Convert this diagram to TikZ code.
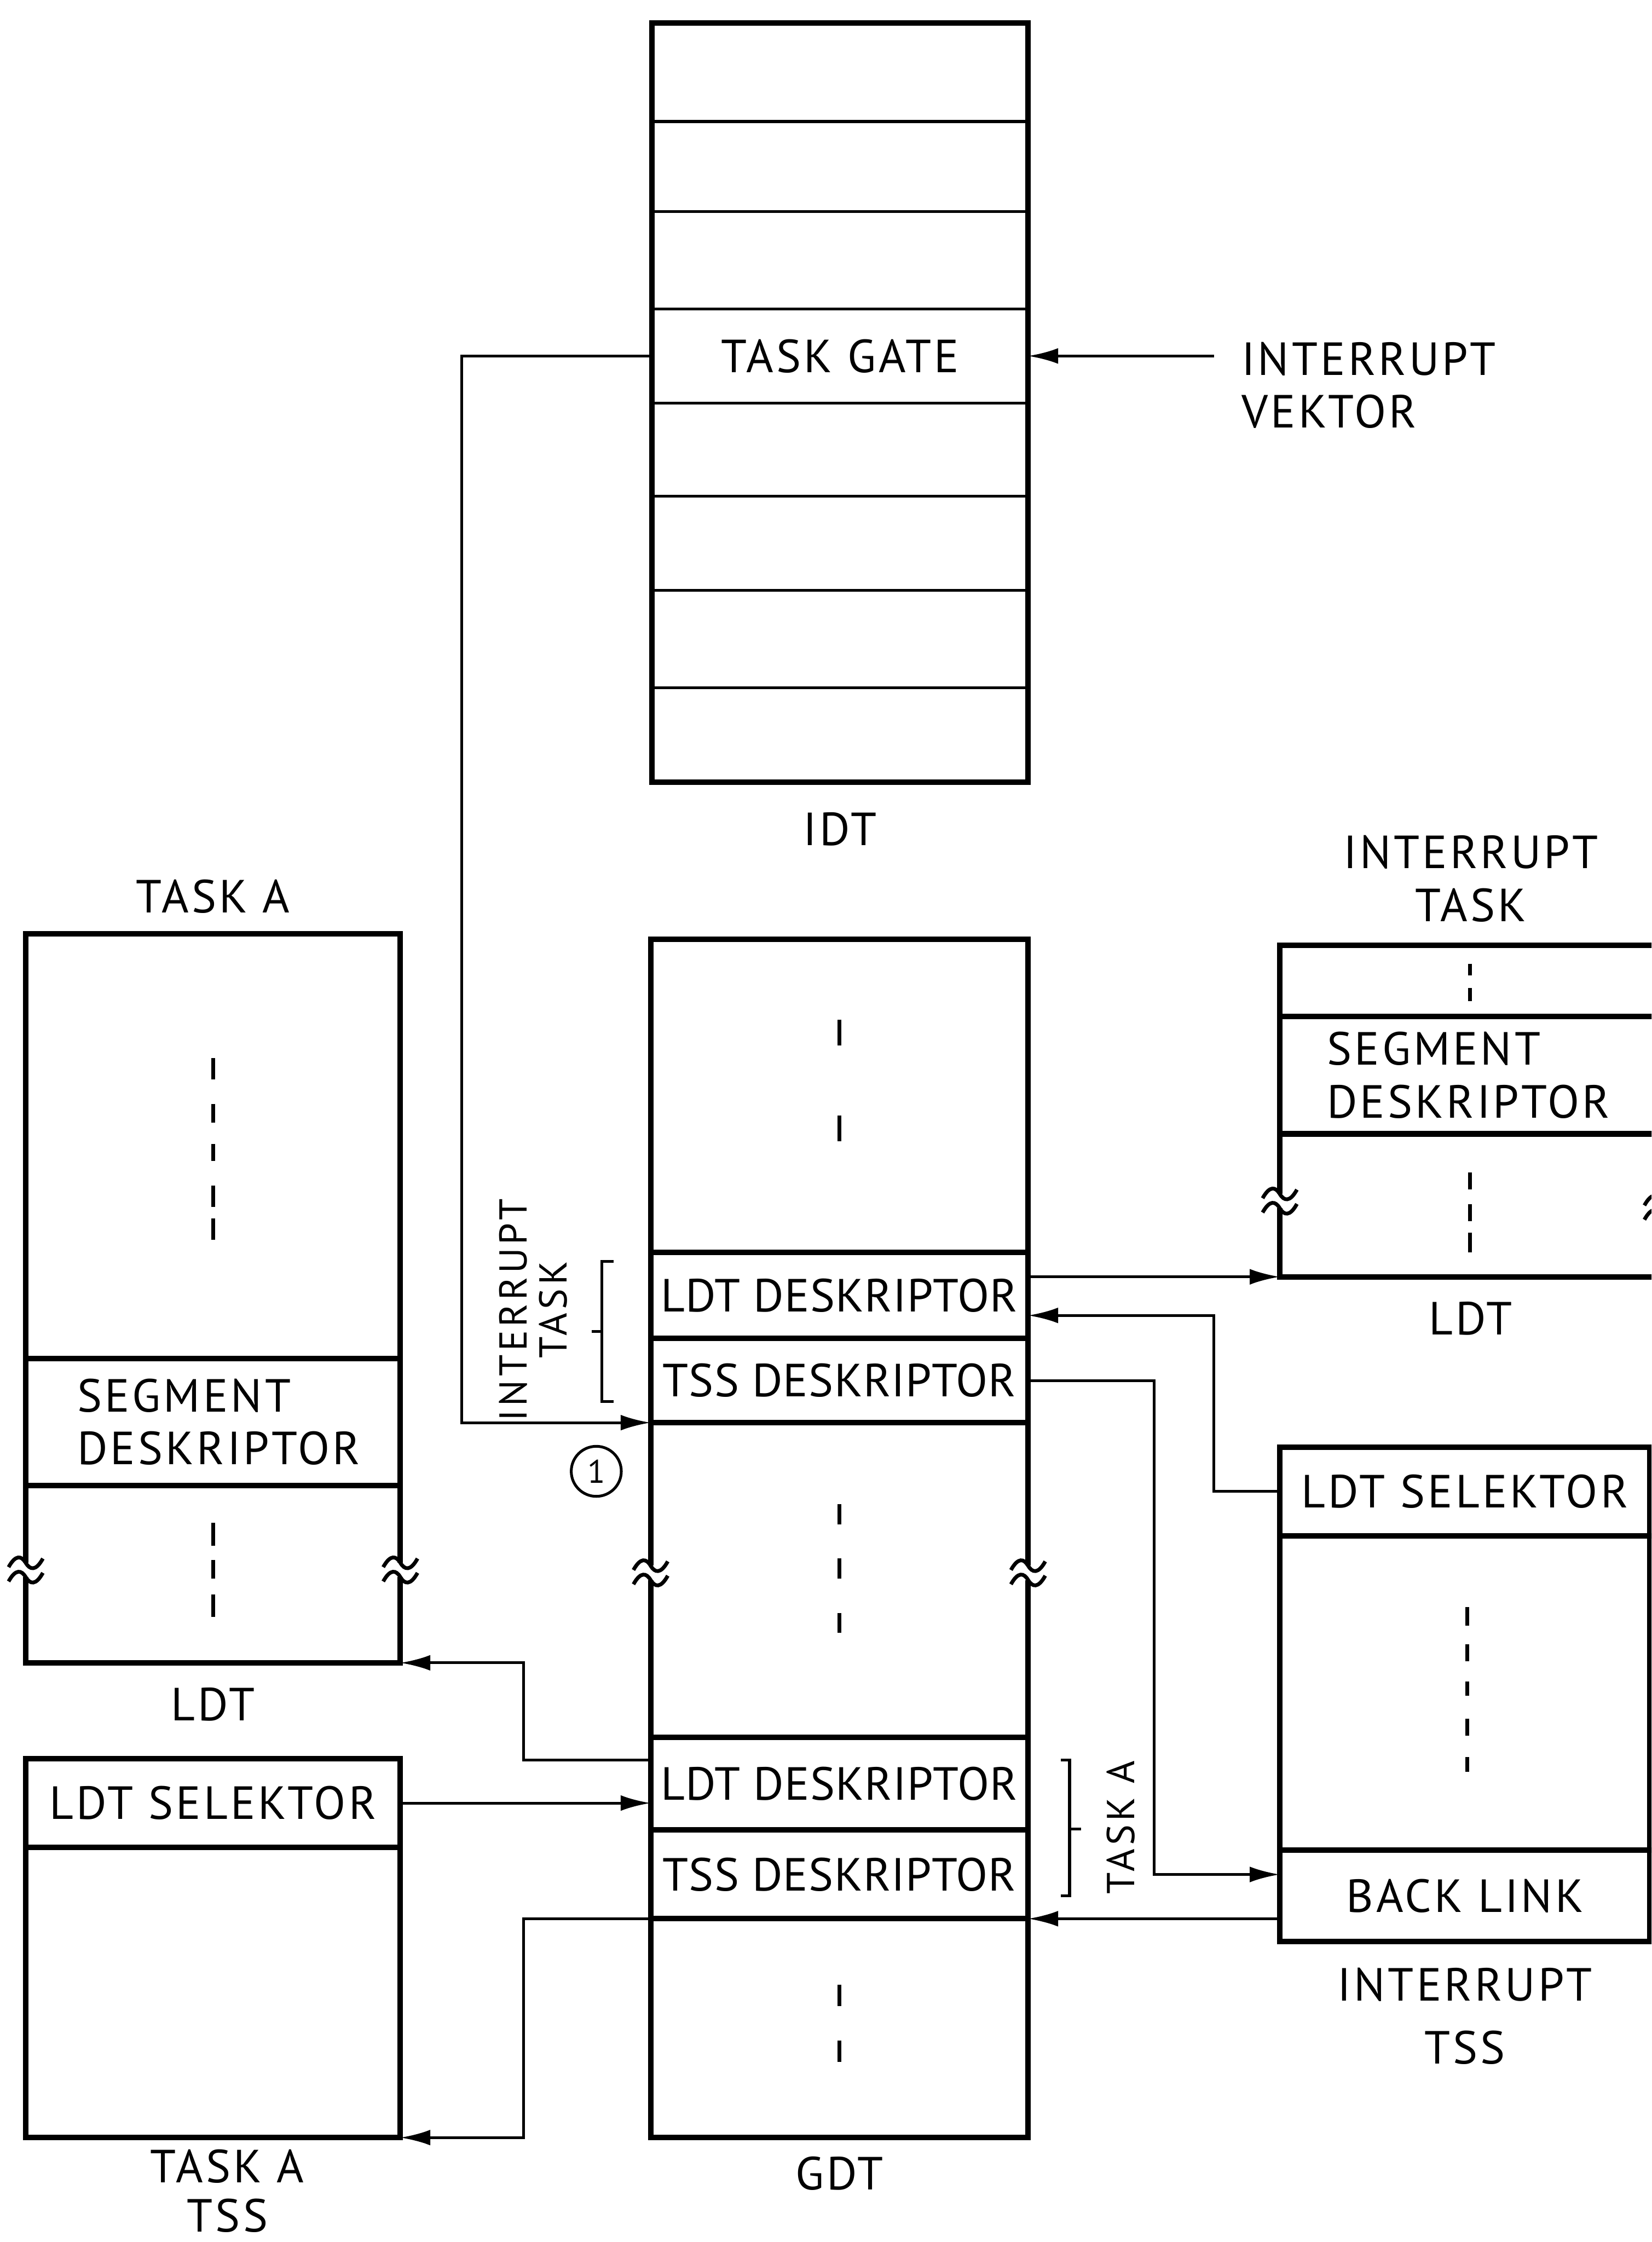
\documentclass[tikz,border=0pt]{standalone}
\usepackage{fontspec}
\setmainfont{PT Sans}[LetterSpace=6]
\usetikzlibrary{arrows.meta, positioning}

\begin{document}
\begin{tikzpicture}[
    x=0.02cm, y=-0.02cm,
    every node/.style={font=\fontsize{18.5}{21}\selectfont},
    idtrow/.style={rectangle, draw, line width=1.1pt, minimum width=5.26cm, inner sep=0pt, outer sep=0pt},
    cell/.style={rectangle, draw, line width=2.2pt, minimum width=#1, inner sep=0pt, outer sep=0pt},
    gtext/.style={font=\fontsize{18.5}{21}\selectfont\addfontfeatures{LetterSpace=1.5}},
    frame/.style={line width=2.2pt},
    lbl/.style={inner sep=0pt, align=center},
    side/.style={inner sep=0pt, align=center, rotate=90, font=\fontsize{15.5}{16}\selectfont\addfontfeatures{LetterSpace=9}},
    arrow/.style={->, >={Latex[length=0.42cm, width=0.22cm]}, line width=1.1pt},
    dots/.style={line width=1.6pt},
    brace/.style={line width=1.1pt},
    brk/.pic={
        \fill[white] (-3,-5) rectangle (3,5);
        \draw[line width=1.5pt] (-12,-2) .. controls (-7,-11) and (-3,-10) .. (0,-5) .. controls (3,0) and (7,1) .. (12,-8);
        \draw[line width=1.5pt] (-12,8) .. controls (-7,-1) and (-3,0) .. (0,5) .. controls (3,10) and (7,11) .. (12,2);
    }
]
\useasboundingbox (0,0) rectangle (1155,1568);
\clip (0,0) rectangle (1155,1568);

% IDT
\node[idtrow, minimum height=1.38cm] (idt1) at (587.5,50.5) {};
\node[idtrow, minimum height=1.26cm, below=0pt of idt1] (idt2) {};
\node[idtrow, minimum height=1.36cm, below=0pt of idt2] (idt3) {};
\node[idtrow, minimum height=1.32cm, below=0pt of idt3] (idt4) {TASK GATE};
\node[idtrow, minimum height=1.30cm, below=0pt of idt4] (idt5) {};
\node[idtrow, minimum height=1.32cm, below=0pt of idt5] (idt6) {};
\node[idtrow, minimum height=1.36cm, below=0pt of idt6] (idt7) {};
\node[idtrow, minimum height=1.32cm, below=0pt of idt7] (idt8) {};
\draw[frame] (idt1.north west) rectangle (idt8.south east);
\node[lbl, below=0.42cm of idt8] (idtlbl) {IDT};
\node[lbl, align=left, anchor=north west, inner xsep=0.38cm] (vektor) at ([xshift=2.6cm, yshift=0.2cm]idt4.east) {INTERRUPT\\VEKTOR};

% GDT
\node[cell=5.28cm, minimum height=4.38cm] (g1) at (587,766.5) {};
\node[cell=5.28cm, gtext, minimum height=1.2cm, below=0pt of g1] (g2) {LDT DESKRIPTOR};
\node[cell=5.28cm, gtext, minimum height=1.18cm, below=0pt of g2] (g3) {TSS DESKRIPTOR};
\node[cell=5.28cm, minimum height=4.4cm, below=0pt of g3] (g4) {};
\node[cell=5.28cm, gtext, minimum height=1.3cm, below=0pt of g4] (g5) {LDT DESKRIPTOR};
\node[cell=5.28cm, gtext, minimum height=1.24cm, below=0pt of g5] (g6) {TSS DESKRIPTOR};
\node[cell=5.28cm, minimum height=3.06cm, below=0pt of g6] (g7) {};
\node[lbl, below=0.26cm of g7] (gdtlbl) {GDT};

% Task A LDT and TSS
\node[cell=5.24cm, minimum height=5.94cm] (l1) at (149,801.5) {};
\node[cell=5.24cm, minimum height=1.78cm, below=0pt of l1, text width=3.8cm, align=left] (l2) {SEGMENT\\DESKRIPTOR};
\node[cell=5.24cm, minimum height=2.48cm, below=0pt of l2] (l3) {};
\node[lbl, above=0.28cm of l1] (ldtalbl) {TASK A};
\node[lbl, below=0.34cm of l3] (ldtlbl) {LDT};

\node[cell=5.24cm, minimum height=1.24cm] (t1) at (149,1261) {LDT SELEKTOR};
\node[cell=5.24cm, minimum height=4.06cm, below=0pt of t1] (t2) {};
\node[lbl, font=\fontsize{18.5}{19.5}\selectfont, below=0.16cm of t2, xshift=0.2cm] (tsslbl) {TASK A\\TSS};

% Interrupt task LDT and TSS
\node[cell=5.34cm, minimum height=1.0cm] (il1) at (1028.5,686) {};
\node[cell=5.34cm, minimum height=1.64cm, below=0pt of il1, text width=4.02cm, align=left] (il2) {SEGMENT\\DESKRIPTOR};
\node[cell=5.34cm, minimum height=2.0cm, below=0pt of il2] (il3) {};
\node[lbl, above=0.32cm of il1] (intlbl) {INTERRUPT\\TASK};
\node[lbl, below=0.34cm of il3] (ildtlbl) {LDT};

\node[cell=5.18cm, minimum height=1.24cm] (it1) at (1024.5,1043) {LDT SELEKTOR};
\node[cell=5.18cm, minimum height=4.4cm, below=0pt of it1] (it2) {};
\node[cell=5.18cm, minimum height=1.28cm, below=0pt of it2] (it3) {BACK LINK};
\node[lbl, font=\fontsize{18.5}{25}\selectfont, below=0.36cm of it3] (itsslbl) {INTERRUPT\\TSS};

% side marks
\node[side] (inttask) at (373,916) {INTERRUPT\\TASK};
\node[side] (taskarot) at (784,1278) {TASK A};
\node[circle, draw, line width=1.1pt, minimum size=0.7cm, inner sep=0pt, font=\fontsize{13}{14}\selectfont] (num1) at (417,1029) {1};
\draw[brace] (429,882) -- (421,882) -- (421,980) -- (429,980);
\draw[brace] (421,931) -- (414,931);
\draw[brace] (742,1231) -- (748,1231) -- (748,1326) -- (742,1326);
\draw[brace] (748,1279) -- (756,1279);

% dashed continuation marks
\foreach \y/\h in {713/18, 780/18, 1052/14, 1090/14, 1128/14, 1388/15, 1427/15}
    \draw[dots] (587,\y) -- ++(0,\h);
\foreach \y/\h in {740/15, 772/13, 800/12, 829/15, 852/15, 1065/16, 1091/13, 1115/16}
    \draw[dots] (149,\y) -- ++(0,\h);
\foreach \y/\h in {674/8, 691/9, 820/12, 842/12, 862/14}
    \draw[dots] (1028,\y) -- ++(0,\h);
\foreach \y/\h in {1124/13, 1150/12, 1176/10, 1202/12, 1229/10}
    \draw[dots] (1026,\y) -- ++(0,\h);

% breaks
\pic at (455,1100) {brk};
\pic at (719,1100) {brk};
\pic at (18,1098) {brk};
\pic at (280,1098) {brk};
\pic at (895,840) {brk};
\pic at (1162,845) {brk};

% connectors
\coordinate (tgbus) at (323,0);
\draw[arrow] (idt4.east -| vektor.west) -- (idt4.east);
\draw[arrow] (idt4.west) -- (idt4.west -| tgbus) |- (g3.south west);
\draw[arrow] (il3.south west -| g2.east) -- (il3.south west);
\draw[arrow] (it1.west) -- ++(-46,0) |- ([yshift=-0.28cm]g2.east);
\draw[arrow] (g3.east) -- ++(88,0) |- ([yshift=0.3cm]it3.west);
\draw[arrow] (it3.west |- g6.south east) -- (g6.south east);
\draw[arrow] ([yshift=0.33cm]g5.west) -- ++(-89,0) |- (l3.south east);
\draw[arrow] (t1.east) -- (t1.east -| g5.west);
\draw[arrow] (g6.south west) -- ++(-89,0) |- (t2.south east);

\end{tikzpicture}
\end{document}
